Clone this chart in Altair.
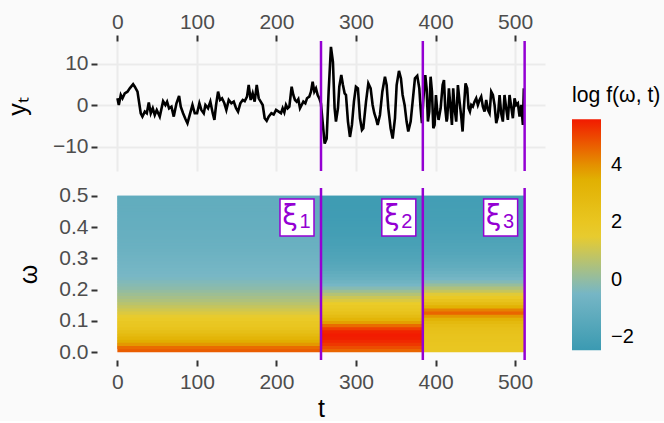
import altair as alt
import pandas as pd

# ---------------- data ----------------
t_pts = [0.1, 1.8, 4.3, 6.4, 9.3, 12.7, 15.6, 19.8, 21.9, 25.3, 29.4, 31.5, 34.5, 37.0, 39.5, 42.0, 44.5, 47.0, 49.5,
         53.3, 57.5, 60.4, 62.5, 65.0, 68.0, 70.9, 74.3, 77.6, 79.7, 82.6, 85.6, 88.1, 91.0, 94.4, 97.3,
         100.2, 103.1, 105.6, 108.6, 110.7, 114.0, 116.9, 119.9, 122.0, 124.1, 126.6, 129.1, 131.6, 134.5, 137.0,
         140.0, 143.3, 146.3, 149.2, 151.7, 154.6, 157.6, 160.1, 163.0, 165.1, 167.6, 170.1, 172.6, 175.2, 177.7,
         180.2, 182.7, 185.2, 187.7, 190.2, 193.6, 196.5, 199.5, 202.8, 205.7, 207.8, 209.9, 212.0, 214.1, 216.2,
         219.1, 221.2, 223.3, 225.4, 227.5, 229.6, 231.7, 233.8, 236.3, 238.4, 241.3, 243.4, 245.5, 247.6, 249.7,
         251.8, 253.9, 255.9, 258.0, 260.6, 263.1, 265.6, 268.5, 271.0, 273.1, 274.8, 277.3, 279.0, 281.5, 283.6,
         285.7, 287.4, 289.9, 292.4, 294.9, 297.4, 299.9, 302.4, 305.0, 307.5, 309.2, 312.6, 315.5, 318.4, 320.9,
         323.0, 325.1, 327.2, 330.1, 333.1, 336.4, 338.5, 340.6, 343.5, 346.1, 349.0, 351.1, 354.0, 356.5, 358.6,
         361.1, 363.6, 365.7, 368.7, 371.2, 374.1, 377.0, 379.6, 381.2, 382.9, 384.6, 387.1, 388.8, 390.4, 392.1,
         393.8, 395.5, 397.2, 398.8, 400.5, 402.2, 403.8, 406.4, 408.9, 410.6, 412.2, 413.9, 414.7, 416.8, 418.9,
         420.6, 422.2, 423.9, 426.0, 428.1, 430.2, 432.3, 434.0, 435.6, 437.7, 439.8, 441.5, 443.2, 444.9, 446.9,
         449.0, 451.1, 453.2, 455.3, 457.4, 459.5, 461.6, 463.7, 465.8, 467.9, 470.0, 472.1, 474.2, 476.3, 478.4,
         480.5, 482.5, 484.6, 486.7, 488.8, 490.9, 493.0, 495.1, 497.2, 499.3, 501.4, 503.5, 505.6, 507.7, 509.8,
         511.0]
y_pts = [1.7, 0.1, 2.5, 1.7, 2.9, 3.3, 4.1, 5.1, 4.5, 3.3, -1.9, -2.7, -1.5, -1.9, 0.7, -1.9, -0.7, -2.3, -1.1,
         -2.7, 1.0, 0.1, 0.9, -0.7, -0.3, -2.7, 0.5, 2.3, -0.3, -1.9, -3.3, -4.3, -2.3, 0.1, -1.9,
         -1.9, 0.5, -1.1, -1.9, 0.1, -0.7, 0.9, -1.9, -3.5, 0.1, 3.3, 1.3, 1.7, 0.5, -1.1,
         1.3, 0.5, 0.9, -0.7, -1.5, 0.5, 1.3, 1.0, 2.1, 4.9, 1.3, 2.9, 0.9, 4.9, 1.7,
         0.9, 0.1, -3.1, -3.7, -2.7, -1.9, -2.2, -1.1, -1.5, -1.9, -0.7, -1.7, 0.1, -0.7, -0.3,
         4.5, 2.5, 1.3, 0.9, 1.5, -0.7, 0.1, 0.9, 0.5, 1.7, 2.1, 3.3, 5.7, 3.3, 4.1,
         2.5, 1.7, 0.5, -3.9, -9.2, -8.0, 3.3, 14.1, 10.5, -0.7, -3.9, -0.7, 4.5, 7.3, 4.9,
         2.9, 2.5, -3.9, -7.6, -4.7, 0.9, 4.5, 4.1, -3.1, -5.9, -5.5, 0.9, 5.3, 4.1, 0.1,
         -1.9, -3.1, -4.7, -2.3, 3.3, 6.9, 4.9, -0.7, -5.5, -8.0, -3.1, 4.9, 8.3, 6.5, 2.5,
         0.1, -3.9, -6.3, -3.9, 0.9, 6.5, 7.1, 4.1, -0.7, -4.3, 1.3, 7.3, 4.1, -3.9, -1.5,
         6.9, 3.3, -5.5, -4.7, 2.5, -1.5, -3.5, -0.7, 4.9, 6.1, -0.7, -3.9, -3.1, 4.1, -0.7,
         -4.7, 4.1, -0.7, -3.9, 4.9, 0.9, -2.7, -6.3, -0.7, 5.3, 4.1, -0.7, -1.5, 0.1, -0.3,
         0.9, 1.7, 0.1, 1.3, 2.1, -0.3, -1.5, 1.3, -1.1, -1.9, 3.3, 2.5, 0.1, -4.3, -2.7,
         2.5, -1.9, -3.9, 2.5, -0.7, -3.5, 2.5, -0.3, -3.1, 1.7, 0.1, 0.5, -2.7, 0.1, -4.7,
         4.1]

breaks = [256, 384, 512]
break_labels = ["1", "2", "3"]
seg_start = [0, 256, 384]
seg_end = [256, 384, 512]

omega = [0.00, 0.01, 0.02, 0.03, 0.04, 0.05, 0.06, 0.07, 0.08, 0.09,
         0.10, 0.11, 0.12, 0.13, 0.14, 0.15, 0.16, 0.17, 0.18, 0.19,
         0.20, 0.21, 0.22, 0.23, 0.24, 0.25, 0.26, 0.27, 0.28, 0.29,
         0.30, 0.31, 0.32, 0.33, 0.34, 0.35, 0.36, 0.37, 0.38, 0.39,
         0.40, 0.41, 0.42, 0.43, 0.44, 0.45, 0.46, 0.47, 0.48, 0.49]
band = 0.01

logf_seg1 = [4.7, 4.5, 3.9, 3.6, 3.2, 2.8, 2.5, 2.2, 2.0, 1.9,
             1.7, 1.5, 1.3, 1.1, 0.9, 0.7, 0.5, 0.35, 0.2, 0.05,
             -0.1, -0.2, -0.3, -0.4, -0.45, -0.5, -0.55, -0.6, -0.65, -0.7,
             -0.75, -0.8, -0.85, -0.9, -0.92, -0.95, -0.98, -1.0, -1.02, -1.05,
             -1.07, -1.09, -1.1, -1.12, -1.14, -1.15, -1.16, -1.17, -1.18, -1.2]
logf_seg2 = [4.6, 4.9, 5.2, 5.4, 5.55, 5.6, 5.5, 5.1, 4.5, 3.8,
             3.2, 2.7, 2.3, 2.0, 1.8, 1.6, 1.3, 1.0, 0.6, 0.2,
             -0.2, -0.5, -0.75, -0.95, -1.1, -1.25, -1.4, -1.5, -1.6, -1.7,
             -1.78, -1.85, -1.92, -1.98, -2.03, -2.08, -2.12, -2.16, -2.19, -2.22,
             -2.24, -2.26, -2.28, -2.3, -2.31, -2.32, -2.33, -2.34, -2.35, -2.35]
logf_seg3 = [2.0, 2.0, 2.05, 2.1, 2.15, 2.2, 2.3, 2.4, 2.6, 2.9,
             3.3, 3.9, 4.6, 4.2, 3.4, 2.7, 2.2, 1.8, 1.4, 0.9,
             0.5, 0.1, -0.25, -0.5, -0.75, -0.9, -1.05, -1.2, -1.3, -1.4,
             -1.5, -1.6, -1.67, -1.73, -1.79, -1.84, -1.88, -1.92, -1.96, -2.0,
             -2.03, -2.06, -2.09, -2.11, -2.13, -2.15, -2.17, -2.18, -2.19, -2.2]

color_stops = [-2.47, -0.45, 1.57, 3.59, 5.61]
zissou = ["#3B9AB2", "#78B7C5", "#EBCC2A", "#E1AF00", "#F21A00"]

# ---------------- tables ----------------
line_df = pd.DataFrame({"t": t_pts, "y": y_pts})
brk_df = pd.DataFrame({"t": breaks, "lab": break_labels})

rows = []
for s, prof in enumerate([logf_seg1, logf_seg2, logf_seg3]):
    for w, v in zip(omega, prof):
        rows.append({"t0": seg_start[s], "t1": seg_end[s], "w0": w,
                     "w1": min(w + 2 * band, 0.5), "v": v})
heat_df = pd.DataFrame(rows)

PURPLE = "#9400D3"
FONT = "Liberation Sans"
xscale = alt.Scale(domain=[-25.6, 537.6], nice=False, zero=False)
xticks = [0, 100, 200, 300, 400, 500]

# ---------------- top panel ----------------
top_line = alt.Chart(line_df).mark_line(color="black", strokeWidth=2.6).encode(
    x=alt.X("t:Q", scale=xscale,
            axis=alt.Axis(orient="top", values=xticks, title=None, grid=True,
                          gridColor="#EBEBEB", gridWidth=2, labelPadding=3)),
    y=alt.Y("y:Q", scale=alt.Scale(domain=[-15.8, 15.5], nice=False, zero=False),
            axis=alt.Axis(values=[-10, 0, 10], title="yₜ", grid=True,
                          gridColor="#EBEBEB", gridWidth=2, titlePadding=22)),
)
top_rules = alt.Chart(brk_df).mark_rule(color=PURPLE, strokeWidth=2.5).encode(x=alt.X("t:Q", scale=xscale))
top = alt.layer(top_line, top_rules).properties(width=448, height=130)

# ---------------- bottom panel ----------------
heat = alt.Chart(heat_df).mark_rect().encode(
    x=alt.X("t0:Q", scale=xscale,
            axis=alt.Axis(values=xticks, title="t", grid=False, labelPadding=5, titlePadding=4)),
    x2="t1:Q",
    y=alt.Y("w0:Q", scale=alt.Scale(domain=[-0.025, 0.525], nice=False, zero=False),
            axis=alt.Axis(values=[0, 0.1, 0.2, 0.3, 0.4, 0.5], format=".1f", title="ω",
                          grid=False, titlePadding=17)),
    y2="w1:Q",
    color=alt.Color("v:Q",
                    scale=alt.Scale(domain=color_stops, range=zissou, interpolate="rgb"),
                    legend=alt.Legend(title="log f(ω, t)", values=[-2, 0, 2, 4],
                                      orient="none", legendX=475, legendY=44,
                                      gradientLength=231, gradientThickness=29,
                                      gradientStrokeWidth=0, labelFontSize=20,
                                      labelColor="black", labelFont=FONT, labelOffset=10,
                                      titleFontSize=21.2, titleFont=FONT, titleFontWeight="normal",
                                      titleColor="black", titlePadding=13)),
)
bot_rules = alt.Chart(brk_df).mark_rule(color=PURPLE, strokeWidth=2.5).encode(x=alt.X("t:Q", scale=xscale))
boxes = alt.Chart(brk_df).mark_rect(fill="white", stroke=PURPLE, strokeWidth=1.5,
                                    xOffset=-41, x2Offset=-7).encode(
    x=alt.X("t:Q", scale=xscale), x2="t:Q", y=alt.value(11), y2=alt.value(48))
xi = alt.Chart(brk_df).mark_text(text="ξ", font="DejaVu Sans", fontSize=28, color=PURPLE,
                                 dx=-31, align="center", baseline="middle").encode(
    x=alt.X("t:Q", scale=xscale), y=alt.value(29))
sub = alt.Chart(brk_df).mark_text(font=FONT, fontSize=20, color=PURPLE,
                                  dx=-16, align="center", baseline="middle").encode(
    x=alt.X("t:Q", scale=xscale), y=alt.value(34), text="lab:N")
bottom = alt.layer(heat, bot_rules, boxes, xi, sub).properties(width=448, height=172)

chart = alt.vconcat(top, bottom, spacing=11).properties(
    background="#FAFAFA",
    padding={"left": 5, "top": 11, "right": 3, "bottom": 0},
).configure_view(stroke=None).configure_axis(
    labelFont=FONT, labelFontSize=21, labelColor="#4D4D4D",
    tickColor="#333333", tickWidth=2, tickSize=6, domain=False,
    titleFont=FONT, titleFontSize=25, titleFontWeight="normal", titleColor="black",
    labelPadding=3,
)

chart.save("out.html", embed_options={"renderer": "svg", "actions": False})
